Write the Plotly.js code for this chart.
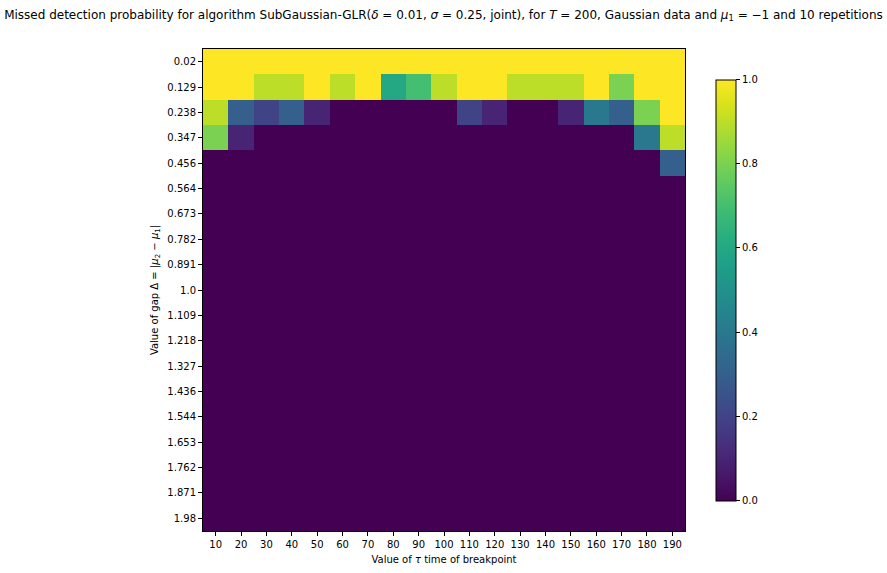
<!DOCTYPE html>
<html>
<head>
<meta charset="utf-8">
<script src="https://cdn.plot.ly/plotly-3.0.1.min.js"></script>
<style>
	body { margin: 0; background: #fff; }
	#chart { width: 887px; height: 573px; }
</style>
</head>
<body>
<div id="chart"></div>
<script>
// breakpoint positions (columns) and gap values (rows)
const tauValues = [10, 20, 30, 40, 50, 60, 70, 80, 90, 100, 110, 120, 130, 140, 150, 160, 170, 180, 190];
const gapLabels = ["0.02", "0.129", "0.238", "0.347", "0.456", "0.564", "0.673", "0.782", "0.891", "1.0",
	"1.109", "1.218", "1.327", "1.436", "1.544", "1.653", "1.762", "1.871", "1.98"];

// missed detection probability, one row per gap
const row002  = [1, 1, 1, 1, 1, 1, 1, 1, 1, 1, 1, 1, 1, 1, 1, 1, 1, 1, 1];
const row0129 = [1, 1, 0.9, 0.9, 1, 0.9, 1, 0.6, 0.7, 0.9, 1, 1, 0.9, 0.9, 0.9, 1, 0.8, 1, 1];
const row0238 = [0.9, 0.3, 0.2, 0.3, 0.1, 0, 0, 0, 0, 0, 0.2, 0.1, 0, 0, 0.1, 0.4, 0.3, 0.8, 1];
const row0347 = [0.8, 0.1, 0, 0, 0, 0, 0, 0, 0, 0, 0, 0, 0, 0, 0, 0, 0, 0.4, 0.9];
const row0456 = [0, 0, 0, 0, 0, 0, 0, 0, 0, 0, 0, 0, 0, 0, 0, 0, 0, 0, 0.3];
const zeroRow = tauValues.map(() => 0);

const probs = [row002, row0129, row0238, row0347, row0456];
while (probs.length < gapLabels.length) { probs.push(zeroRow.slice()); }

const font = { family: 'DejaVu Sans', size: 10, color: '#000' };

const axisConfig = {
	type: 'category',
	showgrid: false,
	zeroline: false,
	showline: true,
	mirror: true,
	linecolor: '#000',
	linewidth: 1,
	ticks: 'outside',
	ticklen: 4,
	tickcolor: '#000',
	tickfont: font
};

const trace = {
	type: 'heatmap',
	x: tauValues.map(String),
	y: gapLabels,
	z: probs,
	zmin: 0,
	zmax: 1,
	colorscale: 'Viridis',
	hoverinfo: 'skip',
	colorbar: {
		x: 1.064,
		xanchor: 'left',
		xpad: 0,
		y: 0.5,
		yanchor: 'middle',
		ypad: 0,
		len: 0.873,
		thickness: 20,
		outlinewidth: 1,
		outlinecolor: '#000',
		ticks: 'outside',
		ticklen: 4,
		tickcolor: '#000',
		tickvals: [0, 0.2, 0.4, 0.6, 0.8, 1.0],
		ticktext: ['0.0', '0.2', '0.4', '0.6', '0.8', '1.0'],
		tickfont: font
	}
};

const layout = {
	width: 887,
	height: 573,
	font,
	margin: { l: 203, r: 202, t: 49, b: 42, pad: 0 },
	paper_bgcolor: '#fff',
	plot_bgcolor: '#fff',
	title: {
		text: 'Missed detection probability for algorithm SubGaussian-GLR(<i>δ</i> = 0.01, <i>σ</i> = 0.25, joint), for <i>T</i> = 200, Gaussian data and <i>μ</i><sub>1</sub> = −1 and 10 repetitions',
		font: { family: 'DejaVu Sans', size: 12, color: '#000' },
		x: 0.5,
		xref: 'container',
		xanchor: 'center',
		y: 0.975,
		yref: 'container',
		yanchor: 'middle'
	},
	xaxis: Object.assign({}, axisConfig, {
		title: { text: 'Value of <i>τ</i> time of breakpoint', font, standoff: 6 }
	}),
	yaxis: Object.assign({}, axisConfig, {
		autorange: 'reversed',
		title: { text: 'Value of gap Δ = |<i>μ</i><sub>2</sub> − <i>μ</i><sub>1</sub>|', font, standoff: 6 }
	})
};

Plotly.newPlot('chart', [trace], layout, { displayModeBar: false, staticPlot: true });
</script>
</body>
</html>
